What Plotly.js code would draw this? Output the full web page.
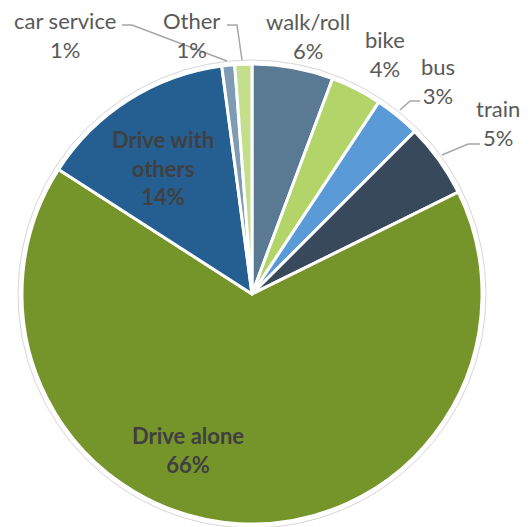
<!DOCTYPE html>
<html>
<head>
<meta charset="utf-8">
<script src="https://cdn.plot.ly/plotly-3.0.1.min.js"></script>
<style>html,body{margin:0;padding:0;background:#fff;}#chart{width:530px;height:527px;}</style>
</head>
<body>
<div id="chart"></div>
<script>
// ---- data ----
const labels = ['walk/roll', 'bike', 'bus', 'train', 'Drive alone', 'Drive with others', 'car service', 'Other'];
const values = [5.7, 3.6, 3.2, 5.2, 66.4, 13.8, 0.9, 1.2];
const displayLabels = ['walk/roll', 'bike', 'bus', 'train', 'Drive alone', 'Drive with<br>others', 'car service', 'Other'];
const colors = ['#5a7a94', '#b2d468', '#599ad7', '#37495a', '#75952b', '#255f92', '#7f9bb3', '#c3df8c'];
const insideLabel = [false, false, false, false, true, true, false, false];

// label placement (pixel centres of the text blocks)
const labelPos = [[308, 36], [385, 54], [438, 81], [498, 123], [188, 450], [163, 168], [65, 35], [191, 35]];
// leader lines (pixel points) for labels that have them
const leaders = {
  'bus': [[420, 101], [410, 101], [400, 110]],
  'train': [[480, 144], [468, 144], [442, 155]],
  'car service': [[122, 25], [132, 25], [227, 61]],
  'Other': [[227, 25], [237, 25], [242, 60]]
};

const W = 530, H = 527;
const cx = 252, cy = 294, R = 230;
const X = p => p / W;
const Y = p => 1 - p / H;

const total = values.reduce((a, b) => a + b, 0);

const trace = {
  type: 'pie',
  labels: labels,
  values: values,
  sort: false,
  direction: 'clockwise',
  rotation: 0,
  textinfo: 'none',
  hoverinfo: 'none',
  marker: {colors: colors, line: {color: '#ffffff', width: 3}},
  domain: {x: [X(cx - R), X(cx + R)], y: [Y(cy + R), Y(cy - R)]},
  showlegend: false
};

const annotations = labels.map((lab, i) => ({
  xref: 'paper', yref: 'paper',
  x: X(labelPos[i][0]), y: Y(labelPos[i][1]),
  xanchor: 'center', yanchor: 'middle',
  showarrow: false,
  text: insideLabel[i]
    ? '<b>' + displayLabels[i] + '<br>' + Math.round(values[i] / total * 100) + '%</b>'
    : displayLabels[i] + '<br>' + Math.round(values[i] / total * 100) + '%',
  font: {family: 'Lato, "Open Sans", sans-serif', size: 22, color: insideLabel[i] ? '#404040' : '#595959'}
}));

const shapes = [{
  type: 'circle', xref: 'paper', yref: 'paper',
  x0: X(cx - R - 4), x1: X(cx + R + 4), y0: Y(cy + R + 4), y1: Y(cy - R - 4),
  line: {color: '#d6d6d6', width: 1}, layer: 'below'
}];
Object.keys(leaders).forEach(k => {
  const pts = leaders[k];
  const d = pts.map((p, j) => (j ? 'L' : 'M') + X(p[0]) + ',' + Y(p[1])).join(' ');
  shapes.push({type: 'path', xref: 'paper', yref: 'paper', path: d,
    line: {color: '#a6a6a6', width: 1.5}});
});

const layout = {
  width: W, height: H,
  margin: {l: 0, r: 0, t: 0, b: 0},
  paper_bgcolor: '#ffffff',
  annotations: annotations,
  shapes: shapes
};

Plotly.newPlot('chart', [trace], layout, {displayModeBar: false, staticPlot: true});
</script>
</body>
</html>
